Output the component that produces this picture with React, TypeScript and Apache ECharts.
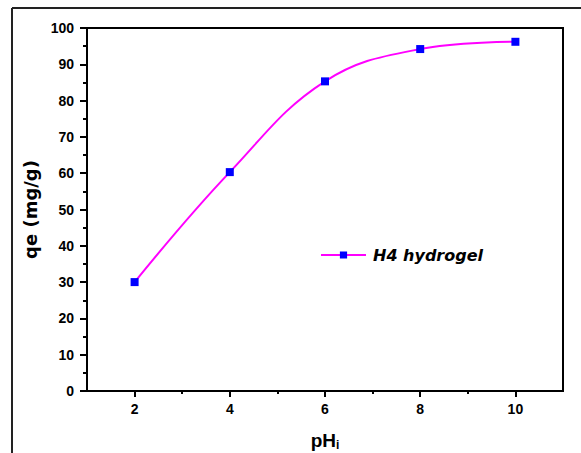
import React, { useEffect, useRef } from "react";
import * as echarts from "echarts";

const phValues = [2, 4, 6, 8, 10];
const qeValues = [30, 60.3, 85.3, 94.2, 96.2];
const xMajorTicks = [2, 4, 6, 8, 10];
const xMinorTicks = [3, 5, 7, 9];
const seriesName = "H4 hydrogel";
const yAxisTitle = "qe (mg/g)";

export default function App() {
  const ref = useRef<HTMLDivElement>(null);
  useEffect(() => {
    const chart = echarts.init(ref.current!, null, { renderer: "svg" });
    const tickLabel = {
      color: "#000",
      fontWeight: "bold" as const,
      fontSize: 14,
      fontFamily: "Liberation Sans, Arial, sans-serif",
    };
    chart.setOption({
      animation: false,
      backgroundColor: "#fff",
      grid: {
        left: 87,
        right: 18,
        top: 28,
        bottom: 62,
        outerBoundsMode: "none",
        containLabel: false,
        show: true,
        borderColor: "#000",
        borderWidth: 2,
      },
      graphic: [
        { type: "line", shape: { x1: 12, y1: 8, x2: 581, y2: 8 }, style: { stroke: "#222", lineWidth: 2 } },
        { type: "line", shape: { x1: 12, y1: 8, x2: 12, y2: 453 }, style: { stroke: "#222", lineWidth: 2 } },
      ],
      legend: {
        data: [seriesName],
        left: 315,
        top: 242,
        itemWidth: 45,
        itemHeight: 9,
        textStyle: {
          color: "#000",
          fontSize: 16,
          fontWeight: "bold",
          fontStyle: "italic",
          fontFamily: "DejaVu Sans, sans-serif",
          padding: [0, 0, 0, 2],
        },
      },
      xAxis: [
        {
          type: "value",
          min: 1,
          max: 11,
          position: "bottom",
          name: "{a|pH}{b|i}",
          nameLocation: "middle",
          nameGap: 38,
          nameTextStyle: {
            rich: {
              a: { fontSize: 19, fontWeight: "bold", color: "#000", fontFamily: "Liberation Sans, Arial, sans-serif" },
              b: { fontSize: 12, fontWeight: "bold", color: "#000", fontFamily: "Liberation Sans, Arial, sans-serif", verticalAlign: "bottom", padding: [10, 0, 0, 0] },
            },
          },
          axisLine: { lineStyle: { color: "#000", width: 2 } },
          axisTick: { customValues: xMajorTicks, length: 6, lineStyle: { color: "#000", width: 2 } },
          axisLabel: { ...tickLabel, customValues: xMajorTicks, margin: 11 },
          splitLine: { show: false },
        },
        {
          type: "value",
          min: 1,
          max: 11,
          position: "bottom",
          offset: 0,
          axisLine: { show: false },
          axisTick: { customValues: xMinorTicks, length: 3, lineStyle: { color: "#000", width: 2 } },
          axisLabel: { show: false },
          splitLine: { show: false },
        },
      ],
      yAxis: {
        type: "value",
        min: 0,
        max: 100,
        interval: 10,
        name: yAxisTitle,
        nameLocation: "middle",
        nameGap: 40,
        nameTextStyle: {
          color: "#000",
          fontSize: 18,
          fontWeight: "bold",
          fontFamily: "DejaVu Sans, sans-serif",
        },
        axisLine: { show: true, lineStyle: { color: "#000", width: 2 } },
        axisTick: { show: true, length: 7, lineStyle: { color: "#000", width: 2 } },
        minorTick: { show: true, splitNumber: 2, length: 4, lineStyle: { color: "#000", width: 2 } },
        axisLabel: { ...tickLabel, margin: 13 },
        splitLine: { show: false },
      },
      series: [
        {
          name: seriesName,
          type: "line",
          xAxisIndex: 0,
          data: phValues.map((x, i) => [x, qeValues[i]]),
          smooth: 0.4,
          symbol: "rect",
          symbolSize: 8,
          itemStyle: { color: "#0000ff" },
          lineStyle: { color: "#ff00ff", width: 2 },
        },
      ],
    });
    return () => chart.dispose();
  }, []);
  return (
    <div
      ref={ref}
      style={{ position: "fixed", left: 0, top: 0, width: 581, height: 453, background: "#fff" }}
    />
  );
}
